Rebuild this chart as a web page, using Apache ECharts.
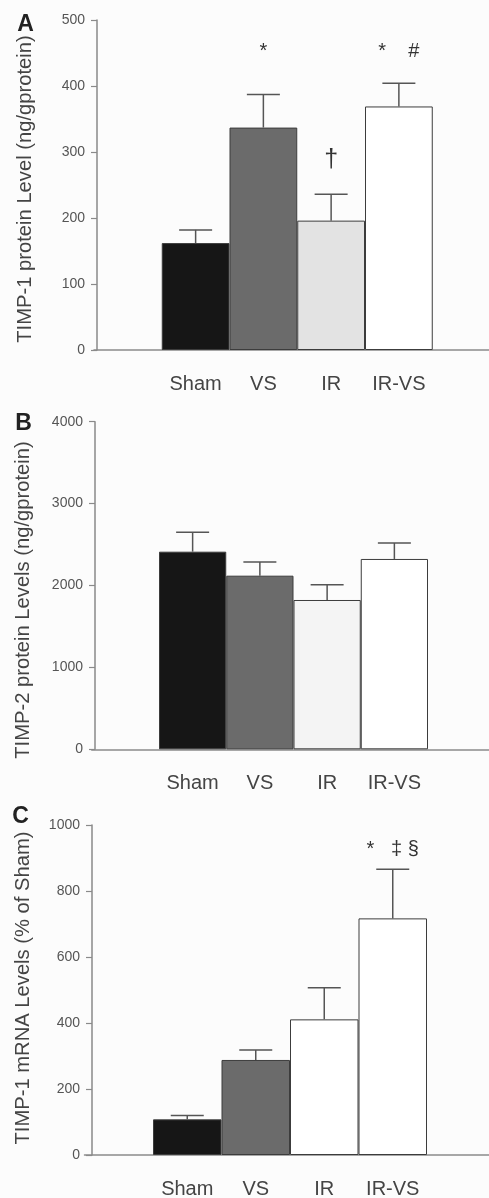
<!DOCTYPE html>
<html>
<head>
<meta charset="utf-8">
<script src="https://cdn.jsdelivr.net/npm/echarts@6/dist/echarts.min.js"></script>
<style>
  html, body { margin: 0; padding: 0; background: #fcfcfc; }
  #chart { width: 489px; height: 1198px; }
</style>
</head>
<body>
<div id="chart"></div>
<script>
// ---------- data ----------
const categories = ['', 'Sham', 'VS', 'IR', 'IR-VS', ''];
const groups = ['Sham', 'VS', 'IR', 'IR-VS'];

const timp1ProteinMean = [162, 337, 196, 369];
const timp1ProteinSem  = [20, 50, 40, 35];
const timp2ProteinMean = [2413, 2120, 1823, 2324];
const timp2ProteinSem  = [237, 167, 187, 195];
const timp1MrnaMean    = [108, 288, 411, 717];
const timp1MrnaSem     = [12, 30, 96, 149];

const annotA = [
  { cat: 'VS', y: 452, text: '*' },
  { cat: 'IR', y: 288, text: '\u2020' },
  { cat: 'IR-VS', y: 452, text: '*    #' }
];
const annotB = [];
const annotC = [
  { cat: 'IR-VS', y: 927, text: '*   \u2021 \u00a7' }
];

const yTicksA = { max: 500, interval: 100 };
const yTicksB = { max: 4000, interval: 1000 };
const yTicksC = { max: 1000, interval: 200 };

const titleA = 'TIMP-1 protein Level (ng/gprotein)';
const titleB = 'TIMP-2 protein Levels (ng/gprotein)';
const titleC = 'TIMP-1 mRNA Levels (% of Sham)';

// ---------- styles ----------
const FONT = '"Liberation Sans", Arial, Helvetica, sans-serif';
const barColorsA = ['#161616', '#6b6b6b', '#e3e3e3', '#ffffff'];
const barColorsB = ['#161616', '#6b6b6b', '#f4f4f4', '#ffffff'];
const barColorsC = ['#161616', '#6b6b6b', '#ffffff', '#ffffff'];
const axisColor = '#8a8a8a';
const bigGlyphs = { '\u2020': 25 };

const panels = [
  { grid: { left: 94, top: 20, width: 406.5, height: 330 }, yOff: -3, mean: timp1ProteinMean, sem: timp1ProteinSem, colors: barColorsA, ticks: yTicksA, annot: annotA },
  { grid: { left: 91.75, top: 421.7, width: 403.5, height: 327.6 }, yOff: -3.25, mean: timp2ProteinMean, sem: timp2ProteinSem, colors: barColorsB, ticks: yTicksB, annot: annotB },
  { grid: { left: 84.5, top: 825, width: 411, height: 330 }, yOff: -7.5, mean: timp1MrnaMean, sem: timp1MrnaSem, colors: barColorsC, ticks: yTicksC, annot: annotC }
];

const grids = [], xAxes = [], yAxes = [], series = [];
panels.forEach((p, k) => {
  grids.push(Object.assign({ outerBoundsMode: 'none', containLabel: false }, p.grid));
  xAxes.push({
    type: 'category', gridIndex: k, data: categories, boundaryGap: true,
    axisLine: { lineStyle: { color: axisColor, width: 1.5 } },
    axisTick: { show: false },
    axisLabel: { interval: 0, fontSize: 20, color: '#444', fontFamily: FONT, margin: 24 },
    splitLine: { show: false }
  });
  yAxes.push({
    type: 'value', gridIndex: k, min: 0, max: p.ticks.max, interval: p.ticks.interval,
    offset: p.yOff,
    axisLine: { show: true, lineStyle: { color: axisColor, width: 1.5 } },
    axisTick: { show: true, length: 6, lineStyle: { color: axisColor, width: 1.2 } },
    axisLabel: { fontSize: 14, color: '#555', fontFamily: FONT, margin: 12, formatter: v => String(v) },
    splitLine: { show: false }
  });
  series.push({
    type: 'bar', xAxisIndex: k, yAxisIndex: k, barCategoryGap: '0%',
    data: groups.map((g, i) => ({
      value: [g, p.mean[i]],
      itemStyle: { color: p.colors[i], borderColor: '#3c3c3c', borderWidth: 1 }
    })),
    silent: true, animation: false
  });
  series.push({
    type: 'custom', xAxisIndex: k, yAxisIndex: k,
    data: groups.map((g, i) => [g, p.mean[i], p.mean[i] + p.sem[i]]),
    renderItem: function (params, api) {
      const a = api.coord([api.value(0), api.value(1)]);
      const b = api.coord([api.value(0), api.value(2)]);
      const half = 16.5;
      const st = { stroke: '#555', lineWidth: 1.5 };
      return { type: 'group', children: [
        { type: 'line', shape: { x1: a[0], y1: a[1], x2: b[0], y2: b[1] }, style: st },
        { type: 'line', shape: { x1: b[0] - half, y1: b[1], x2: b[0] + half, y2: b[1] }, style: st }
      ]};
    },
    z: 5, silent: true, animation: false
  });
  if (p.annot.length) {
    const ann = p.annot;
    series.push({
      type: 'custom', xAxisIndex: k, yAxisIndex: k,
      data: ann.map(d => [d.cat, d.y]),
      renderItem: function (params, api) {
        const pt = api.coord([api.value(0), api.value(1)]);
        const raw = ann[params.dataIndex].text;
        const txt = raw.split('').map(ch => bigGlyphs[ch] ? '{g|' + ch + '}' : ch).join('');
        return { type: 'text', x: pt[0], y: pt[1], style: {
          text: txt, fontSize: 20, fontFamily: FONT, fill: '#333',
          rich: { g: { fontSize: 25, fontFamily: FONT, fill: '#333' } },
          align: 'center', verticalAlign: 'middle', textAlign: 'center', textVerticalAlign: 'middle'
        }};
      },
      z: 6, silent: true, animation: false
    });
  }
});

function vtitle(text, x, y) {
  return { type: 'text', x: x, y: y, rotation: Math.PI / 2, style: {
    text: text, fontSize: 20.2, fontFamily: FONT, fill: '#444',
    align: 'center', verticalAlign: 'middle', textAlign: 'center', textVerticalAlign: 'middle'
  }};
}
function letter(text, x, y) {
  return { type: 'text', x: x, y: y, style: {
    text: text, fontSize: 23, fontWeight: 'bold', fontFamily: FONT, fill: '#222',
    align: 'center', verticalAlign: 'middle', textAlign: 'center', textVerticalAlign: 'middle'
  }};
}

const chart = echarts.init(document.getElementById('chart'), null, { renderer: 'canvas' });
chart.setOption({
  backgroundColor: '#fcfcfc',
  animation: false,
  grid: grids,
  xAxis: xAxes,
  yAxis: yAxes,
  series: series,
  graphic: [
    vtitle(titleA, 25, 189),
    vtitle(titleB, 23, 600),
    vtitle(titleC, 23, 988),
    letter('A', 25.5, 25),
    letter('B', 23.5, 424),
    letter('C', 20.5, 817)
  ]
});
</script>
</body>
</html>
